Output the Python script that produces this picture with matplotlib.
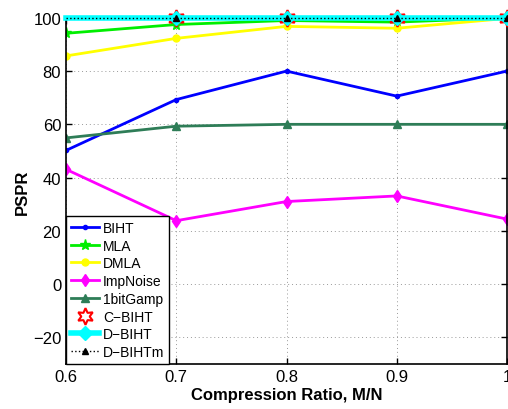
import numpy as np
import matplotlib.pyplot as plt

plt.rcParams['font.family'] = ['Liberation Sans', 'DejaVu Sans']

# compression ratios and PSPR for each method
ratio = [0.6, 0.7, 0.8, 0.9, 1.0]
biht = [50.2, 69.3, 80.0, 70.6, 80.0]
mla = [94.2, 97.5, 99.0, 98.4, 100.0]
dmla = [85.7, 92.3, 96.8, 96.1, 99.8]
impnoise = [43.1, 23.8, 31.0, 33.1, 24.4]
gamp = [54.9, 59.3, 60.0, 60.0, 60.0]
cbiht = [100.0, 100.0, 100.0, 100.0, 100.0]
dbiht = [100.0, 100.0, 100.0, 100.0, 100.0]
dbihtm = [100.0, 100.0, 100.0, 100.0, 100.0]

fig = plt.figure(figsize=(5.08, 4.10), dpi=100)
ax = fig.add_axes([0.130, 0.110, 0.868, 0.844])

lw = 2
hexagram = (6, 1, 0)
ax.plot(ratio, biht, color='#0000ff', marker='.', ms=6, lw=lw, label='BIHT')
ax.plot(ratio, mla, color='#00ee00', marker='*', ms=8, lw=lw, label='MLA')
ax.plot(ratio, dmla, color='#ffff00', marker='o', ms=5, lw=lw, label='DMLA')
ax.plot(ratio, impnoise, color='#ff00ff', marker='d', ms=6, lw=lw, label='ImpNoise')
ax.plot(ratio, gamp, color='#2e7d57', marker='^', ms=6, lw=lw, label='1bitGamp')
ax.plot(ratio, cbiht, color='#ff0000', marker=hexagram, ms=12, lw=0, mfc='none',
        mew=1.5, markevery=slice(1, None), clip_on=False, zorder=3,
        label='C\u2212BIHT')
ax.plot(ratio, dbiht, color='#00ffff', marker='D', ms=7, lw=4,
        markevery=slice(1, None), clip_on=False, zorder=3, label='D\u2212BIHT')
ax.plot(ratio, dbihtm, color='black', marker='^', ms=4, lw=1, ls=':',
        markevery=slice(1, None), clip_on=False, zorder=3, label='D\u2212BIHTm')

ax.set_xlim(0.6, 1.0)
ax.set_ylim(-30, 100)
ax.set_xticks([0.6, 0.7, 0.8, 0.9, 1.0])
ax.set_xticklabels(['0.6', '0.7', '0.8', '0.9', '1'])
ax.set_yticks(np.arange(-20, 101, 20))
ax.set_yticklabels(['\u221220', '0', '20', '40', '60', '80', '100'])
ax.tick_params(direction='in', labelsize=12, length=4, width=1,
               top=True, right=True)
ax.grid(True, ls=(0, (1, 3)), color='#999999', lw=0.7)
for s in ax.spines.values():
    s.set_linewidth(1.2)

ax.set_xlabel('Compression Ratio, M/N', fontsize=12, fontweight='bold', labelpad=2)
ax.set_ylabel('PSPR', fontsize=12, fontweight='bold', labelpad=2)

leg = ax.legend(loc='lower left', fontsize=10, borderaxespad=0, fancybox=False,
                framealpha=1, edgecolor='black', handlelength=2.0,
                handletextpad=0.3, labelspacing=0.27, borderpad=0.35)
leg.get_frame().set_linewidth(1.0)
leg.set_zorder(5)

fig.savefig('out.png', dpi=100)
